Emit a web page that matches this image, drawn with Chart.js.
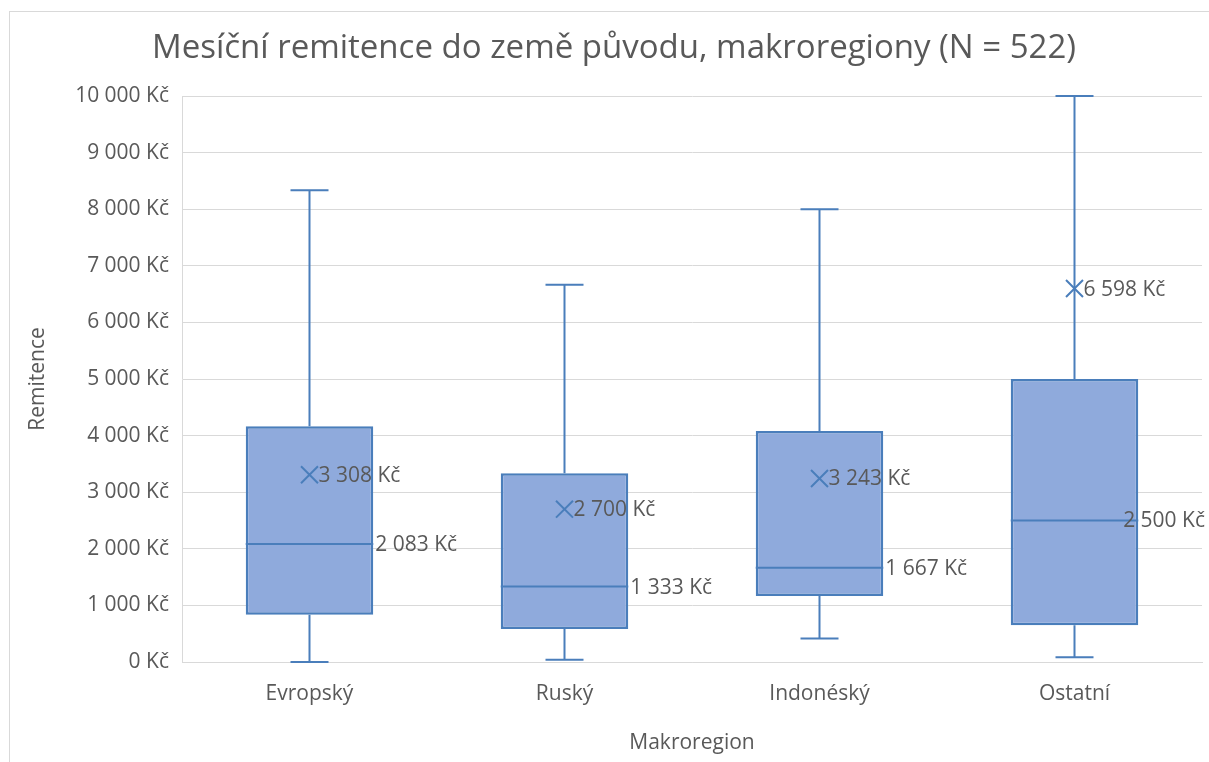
<!DOCTYPE html>
<html lang="cs">
<head>
<meta charset="utf-8">
<title>Mesíční remitence</title>
<script src="https://cdn.jsdelivr.net/npm/chart.js@4.4.1/dist/chart.umd.min.js"></script>
<style>
    html, body { margin: 0; padding: 0; background: #fff; overflow: hidden; }
    #frame { position: absolute; left: 9px; top: 11px; width: 1300px; height: 900px; border: 1px solid #d9d9d9; }
    #chart { position: absolute; left: 0; top: 0; }
</style>
</head>
<body>
<div id="frame"></div>
<canvas id="chart" width="1209" height="762"></canvas>
<script>
const categories = ['Evropský', 'Ruský', 'Indonéský', 'Ostatní'];
const minValues = [0, 40, 417, 83];
const q1Values = [833, 583, 1167, 650];
const medianValues = [2083, 1333, 1667, 2500];
const q3Values = [4167, 3333, 4083, 5000];
const maxValues = [8333, 6667, 8000, 10000];
const meanValues = [3308, 2700, 3243, 6598];
const yTicks = [0, 1000, 2000, 3000, 4000, 5000, 6000, 7000, 8000, 9000, 10000];
const chartTitle = 'Mesíční remitence do země původu, makroregiony (N = 522)';

const FONT = '"Open Sans", "DejaVu Sans", sans-serif';
const TEXT = '#595959';
const LINE = '#4A7EBB';

function kc(v) {
    return String(Math.round(v)).replace(/\B(?=(\d{3})+(?!\d))/g, ' ') + ' Kč';
}

// vousy, medián a popisky kreslené přes škály grafu
const boxPlugin = {
    id: 'boxParts',
    beforeDatasetsDraw(chart) {
        const { ctx, scales: { x, y } } = chart;
        const capHalf = 19;
        ctx.save();
        ctx.strokeStyle = LINE;
        ctx.lineWidth = 2;
        categories.forEach((c, i) => {
            const cx = x.getPixelForValue(i);
            ctx.beginPath();
            ctx.moveTo(cx, y.getPixelForValue(maxValues[i]));
            ctx.lineTo(cx, y.getPixelForValue(q3Values[i]));
            ctx.moveTo(cx, y.getPixelForValue(q1Values[i]));
            ctx.lineTo(cx, y.getPixelForValue(minValues[i]));
            ctx.moveTo(cx - capHalf, y.getPixelForValue(maxValues[i]));
            ctx.lineTo(cx + capHalf, y.getPixelForValue(maxValues[i]));
            ctx.moveTo(cx - capHalf, y.getPixelForValue(minValues[i]));
            ctx.lineTo(cx + capHalf, y.getPixelForValue(minValues[i]));
            ctx.stroke();
        });
        ctx.restore();
    },
    afterDatasetsDraw(chart) {
        const { ctx, scales: { x, y } } = chart;
        const bars = chart.getDatasetMeta(1).data;
        ctx.save();
        ctx.strokeStyle = LINE;
        ctx.lineWidth = 2;
        ctx.font = '21px ' + FONT;
        ctx.fillStyle = TEXT;
        ctx.textBaseline = 'middle';
        ctx.textAlign = 'left';
        categories.forEach((c, i) => {
            const bar = bars[i];
            const left = bar.x - bar.width / 2;
            const right = bar.x + bar.width / 2;
            const my = y.getPixelForValue(medianValues[i]);
            ctx.beginPath();
            ctx.moveTo(left, my);
            ctx.lineTo(right, my);
            ctx.stroke();

            const medText = kc(medianValues[i]);
            const w = ctx.measureText(medText).width;
            const mx = Math.min(right + 2, chart.width - 4 - w);
            ctx.fillText(medText, mx, my + 1);

            const cx = x.getPixelForValue(i);
            ctx.fillText(kc(meanValues[i]), cx + 9, y.getPixelForValue(meanValues[i]) + 1);
        });
        ctx.restore();
    },
    afterDraw(chart) {
        // titulek je v Excelu vystředěný na celý rámeček, ne na plátno
        const ctx = chart.ctx;
        ctx.save();
        ctx.font = '33px ' + FONT;
        ctx.fillStyle = TEXT;
        ctx.textAlign = 'center';
        ctx.textBaseline = 'alphabetic';
        ctx.fillText(chartTitle, 614, 58);
        ctx.restore();
    }
};

new Chart(document.getElementById('chart'), {
    type: 'bar',
    data: {
        labels: categories,
        datasets: [
            {
                type: 'line',
                data: meanValues,
                showLine: false,
                pointStyle: 'crossRot',
                pointRadius: 12,
                pointBorderWidth: 2,
                borderColor: LINE,
                backgroundColor: LINE,
                order: 0
            },
            {
                data: categories.map((c, i) => [q1Values[i], q3Values[i]]),
                backgroundColor: '#8FAADC',
                borderColor: LINE,
                borderWidth: 2.5,
                borderSkipped: false,
                categoryPercentage: 0.5,
                barPercentage: 1,
                order: 1
            }
        ]
    },
    options: {
        responsive: false,
        animation: false,
        devicePixelRatio: 1,
        layout: { autoPadding: false, padding: { left: 0, right: 7, top: 96, bottom: 0 } },
        plugins: {
            legend: { display: false },
            tooltip: { enabled: false },
            title: { display: false }
        },
        scales: {
            x: {
                grid: { display: false, drawTicks: false },
                border: { display: true, color: '#d9d9d9' },
                ticks: { color: TEXT, font: { family: FONT, size: 21 }, padding: 19 },
                title: {
                    display: true,
                    text: 'Makroregion',
                    color: TEXT,
                    font: { family: FONT, size: 21, lineHeight: 1.2 },
                    padding: { top: 0, bottom: 6 }
                },
                afterFit(scale) { scale.height = 100; }
            },
            y: {
                min: 0,
                max: 10000,
                afterBuildTicks(scale) { scale.ticks = yTicks.map(v => ({ value: v })); },
                grid: { color: '#d9d9d9', lineWidth: 1, drawTicks: false },
                border: { display: true, color: '#d9d9d9' },
                ticks: { color: TEXT, font: { family: FONT, size: 21 }, padding: 13, callback: v => kc(v) },
                title: {
                    display: true,
                    text: 'Remitence',
                    color: TEXT,
                    font: { family: FONT, size: 21, lineHeight: 1.2 },
                    padding: { top: 25, bottom: 0 }
                },
                afterFit(scale) { scale.width = 182; }
            }
        }
    },
    plugins: [boxPlugin]
});
</script>
</body>
</html>
